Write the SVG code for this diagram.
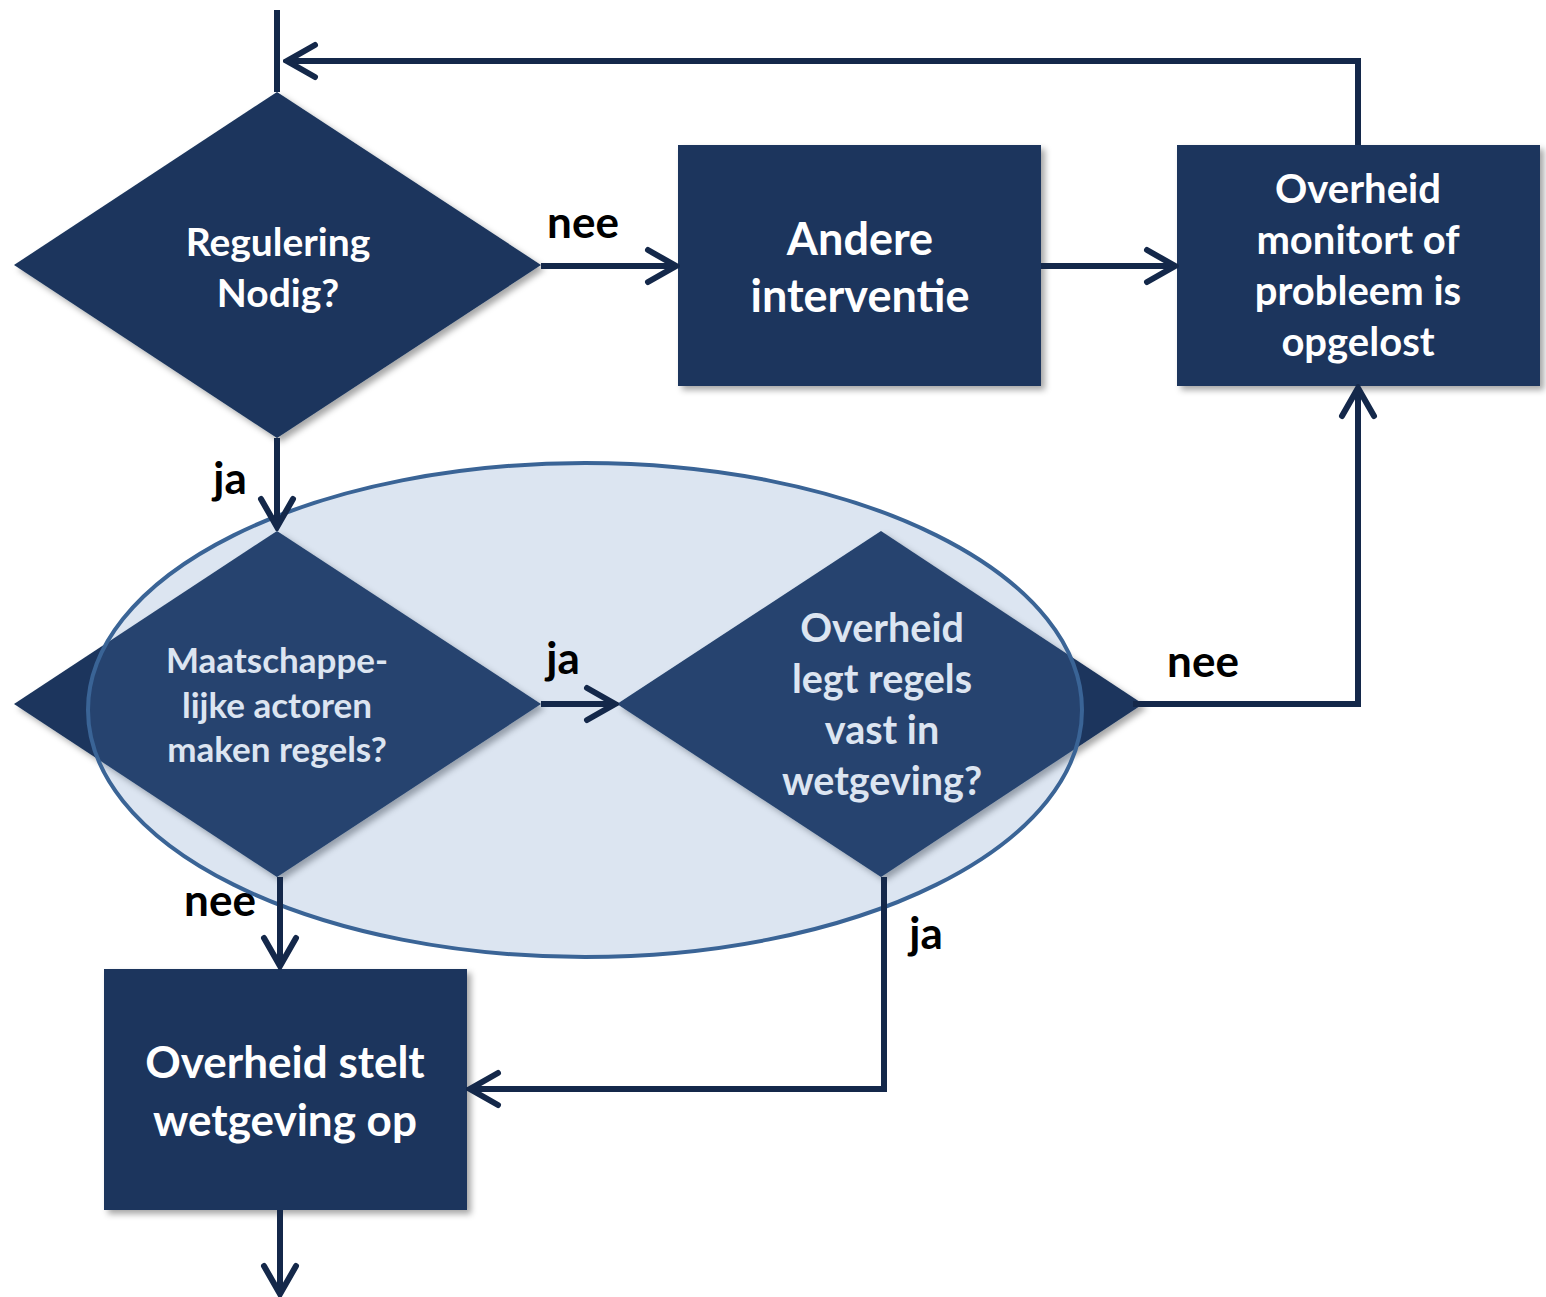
<svg xmlns="http://www.w3.org/2000/svg" width="1546" height="1297" viewBox="0 0 1546 1297">
<style>
.node{fill:#1b365d;filter:url(#sh)}
.t{font-family:Lato,"Open Sans","Liberation Sans",sans-serif;font-weight:bold;fill:#ffffff;text-anchor:middle}
.lbl{font-family:Lato,"Open Sans","Liberation Sans",sans-serif;font-weight:bold;fill:#000000;text-anchor:middle;font-size:44px}
.c{fill:none;stroke:#14284a;stroke-width:6;stroke-linejoin:miter}
.ca{fill:none;stroke:#14284a;stroke-width:6;marker-end:url(#ah)}
</style>
<defs>
<filter id="sh" x="-10%" y="-10%" width="125%" height="125%">
<feDropShadow dx="4" dy="4" stdDeviation="3" flood-color="#000" flood-opacity="0.35"/>
</filter>
<marker id="ah" markerUnits="userSpaceOnUse" viewBox="0 0 36 40" markerWidth="36" markerHeight="40" refX="32" refY="20" orient="auto">
<path d="M4,4 L32,20 L4,36" fill="none" stroke="#14284a" stroke-width="6" stroke-linecap="round" stroke-linejoin="miter"/>
</marker>
</defs>
<rect width="1546" height="1297" fill="#ffffff"/>

<g id="d1">
<polygon class="node" points="277,92 541,265 277,438 14,265"/>
<text class="t" font-size="39"><tspan x="278" y="256">Regulering</tspan><tspan x="278" y="307">Nodig?</tspan></text>
</g>
<g id="r-andere">
<rect class="node" x="678" y="145" width="363" height="241"/>
<text class="t" font-size="45"><tspan x="860" y="255">Andere</tspan><tspan x="860" y="312">interventie</tspan></text>
</g>
<g id="r-monitor">
<rect class="node" x="1177" y="145" width="363" height="241"/>
<text class="t" font-size="40"><tspan x="1358" y="203">Overheid</tspan><tspan x="1358" y="254">monitort of</tspan><tspan x="1358" y="305">probleem is</tspan><tspan x="1358" y="356">opgelost</tspan></text>
</g>
<g id="d2">
<polygon class="node" points="277,531 541,704 277,877 14,704"/>
<text class="t" font-size="35"><tspan x="277" y="673">Maatschappe-</tspan><tspan x="277" y="718">lijke actoren</tspan><tspan x="277" y="762">maken regels?</tspan></text>
</g>
<g id="d3">
<polygon class="node" points="881,531 1143,704 881,877 617,704"/>
<text class="t" font-size="39.5"><tspan x="882" y="642">Overheid</tspan><tspan x="882" y="693">legt regels</tspan><tspan x="882" y="744">vast in</tspan><tspan x="882" y="795">wetgeving?</tspan></text>
</g>
<g id="r-stelt">
<rect class="node" x="104" y="969" width="363" height="241"/>
<text class="t" font-size="44"><tspan x="285" y="1078">Overheid stelt</tspan><tspan x="285" y="1136">wetgeving op</tspan></text>
</g>

<g id="groep">
<ellipse cx="585" cy="710" rx="497" ry="247" fill="#4f7db9" fill-opacity="0.2" stroke="#3a6496" stroke-width="4"/>
</g>

<g id="connectors">
<line class="c" x1="277" y1="10" x2="277" y2="92"/>
<polyline class="ca" points="1358,145 1358,61 287,61"/>
<line class="ca" x1="541" y1="266" x2="676" y2="266"/>
<line class="ca" x1="1041" y1="266" x2="1175" y2="266"/>
<line class="ca" x1="277" y1="438" x2="277" y2="527"/>
<line class="ca" x1="541" y1="704" x2="615" y2="704"/>
<polyline class="ca" points="1133,704 1358,704 1358,388"/>
<line class="ca" x1="280" y1="877" x2="280" y2="966"/>
<polyline class="ca" points="884,877 884,1089 470,1089"/>
<line class="ca" x1="280" y1="1210" x2="280" y2="1294"/>
</g>

<g id="labels">
<text class="lbl" x="583" y="238">nee</text>
<text class="lbl" x="230" y="494">ja</text>
<text class="lbl" x="563" y="674">ja</text>
<text class="lbl" x="1203" y="677">nee</text>
<text class="lbl" x="220" y="916">nee</text>
<text class="lbl" x="926" y="949">ja</text>
</g>
</svg>
